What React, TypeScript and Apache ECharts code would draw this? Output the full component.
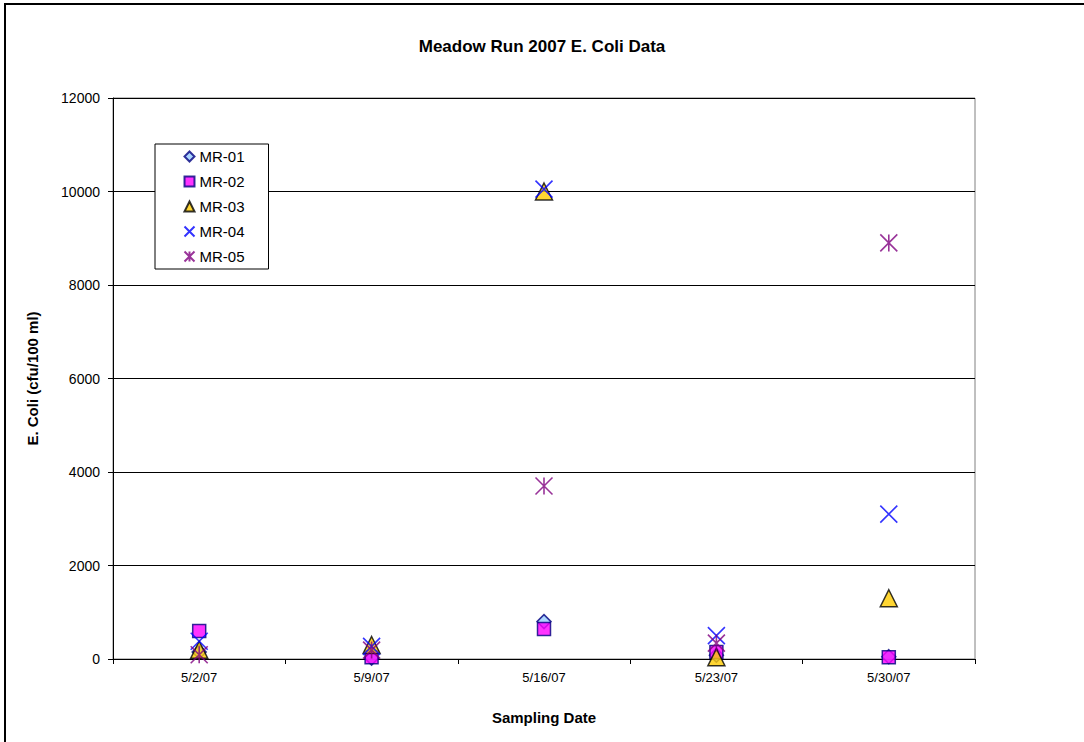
import React, { useEffect, useRef } from "react";
import * as echarts from "echarts";

// Sampling dates (categories)
const dates = ["5/2/07", "5/9/07", "5/16/07", "5/23/07", "5/30/07"];

// E. coli counts (cfu/100 ml) per station
const mr01 = [150, 20, 800, 80, 50];
const mr02 = [600, 40, 640, 150, 40];
const mr03 = [200, 300, 10000, 40, 1300];
const mr04 = [380, 270, 10050, 500, 3100];
const mr05 = [90, 190, 3700, 340, 8900];

const yTicks = { min: 0, max: 12000, interval: 2000 };

const FONT = "Liberation Sans, Arial, sans-serif";

const crossPath = "path://M0,0L10,10M10,0L0,10";
const starPath = "path://M0,0L10,10M10,0L0,10M5,0L5,10";

export default function App() {
  const ref = useRef<HTMLDivElement>(null);

  useEffect(() => {
    if (!ref.current) return;
    const chart = echarts.init(ref.current, null, { renderer: "svg" });

    const seriesDefs = [
      { name: "MR-01", data: mr01, symbol: "diamond", size: 14, itemStyle: { color: "#99CCFF", borderColor: "#000080", borderWidth: 1.5 } },
      { name: "MR-02", data: mr02, symbol: "rect", size: 13, itemStyle: { color: "#FF00FF", borderColor: "#000080", borderWidth: 1.5 } },
      { name: "MR-03", data: mr03, symbol: "triangle", size: 17, itemStyle: { color: "#FFCC00", borderColor: "#000000", borderWidth: 1.5 } },
      { name: "MR-04", data: mr04, symbol: crossPath, size: 17, itemStyle: { color: "none", borderColor: "#0000FF", borderWidth: 1.6 } },
      { name: "MR-05", data: mr05, symbol: starPath, size: 17, itemStyle: { color: "none", borderColor: "#800080", borderWidth: 1.6 } },
    ];

    chart.setOption({
      animation: false,
      backgroundColor: "#ffffff",
      textStyle: { fontFamily: FONT },
      title: {
        text: "Meadow Run 2007 E. Coli Data",
        left: "center",
        top: 33,
        textStyle: { fontFamily: FONT, fontSize: 17, fontWeight: "bold", color: "#000" },
      },
      graphic: [
        {
          type: "rect",
          shape: { x: 5, y: 4, width: 1200, height: 1000 },
          style: { fill: "none", stroke: "#000", lineWidth: 2 },
          silent: true,
        },
      ],
      legend: {
        orient: "vertical",
        left: 155,
        top: 144,
        width: 112,
        padding: [4, 24, 4, 27],
        borderColor: "#000",
        borderWidth: 1,
        backgroundColor: "#fff",
        itemWidth: 10,
        itemHeight: 10,
        itemGap: 8,
        textStyle: { fontFamily: FONT, fontSize: 15, color: "#000", lineHeight: 17 },
        data: seriesDefs.map((s) => s.name),
      },
      grid: {
        left: 113,
        right: 109,
        top: 98,
        bottom: 83,
        show: true,
        borderColor: "#808080",
        borderWidth: 1,
        backgroundColor: "#fff",
      },
      xAxis: {
        type: "category",
        data: dates,
        boundaryGap: true,
        name: "Sampling Date",
        nameLocation: "middle",
        nameGap: 51,
        nameTextStyle: { fontFamily: FONT, fontSize: 15, fontWeight: "bold", color: "#000" },
        axisLine: { lineStyle: { color: "#000", width: 1 } },
        axisTick: { show: true, length: 5, lineStyle: { color: "#000" } },
        axisLabel: { fontFamily: FONT, fontSize: 13, color: "#000", margin: 12 },
        splitLine: { show: false },
      },
      yAxis: {
        type: "value",
        min: yTicks.min,
        max: yTicks.max,
        interval: yTicks.interval,
        name: "E. Coli (cfu/100 ml)",
        nameLocation: "middle",
        nameGap: 73,
        nameRotate: 90,
        nameTextStyle: { fontFamily: FONT, fontSize: 15, fontWeight: "bold", color: "#000" },
        axisLine: { show: true, lineStyle: { color: "#000", width: 1 } },
        axisTick: { show: true, length: 5, lineStyle: { color: "#000" } },
        axisLabel: { fontFamily: FONT, fontSize: 14, color: "#000", margin: 13, formatter: (v: number) => String(v) },
        splitLine: { show: true, lineStyle: { color: "#000", width: 1 } },
      },
      series: seriesDefs.map((s) => ({
        name: s.name,
        type: "scatter",
        data: s.data,
        symbol: s.symbol,
        symbolSize: s.size,
        itemStyle: s.itemStyle,
        emphasis: { disabled: true },
      })),
    });

    return () => chart.dispose();
  }, []);

  return (
    <div
      ref={ref}
      style={{ position: "fixed", left: 0, top: 0, width: 1084, height: 742 }}
    />
  );
}
